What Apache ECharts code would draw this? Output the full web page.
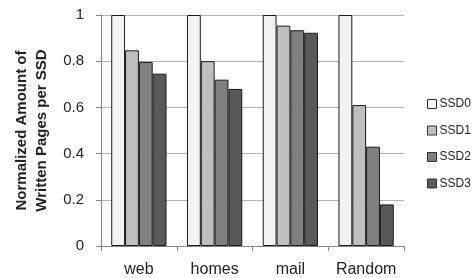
<!DOCTYPE html>
<html>
<head>
<meta charset="utf-8">
<script src="https://cdn.jsdelivr.net/npm/echarts@6/dist/echarts.min.js"></script>
<style>
  html, body { margin: 0; padding: 0; background: #fff; }
  #chart { width: 475px; height: 278px; }
</style>
</head>
<body>
<div id="chart"></div>
<script>
// workloads on the x axis
var categories = ['web', 'homes', 'mail', 'Random'];
var ssdNames = ['SSD0', 'SSD1', 'SSD2', 'SSD3'];
// normalized written pages, one array per SSD
var ssd0 = [1, 1, 1, 1];
var ssd1 = [0.847, 0.80, 0.954, 0.61];
var ssd2 = [0.797, 0.72, 0.934, 0.43];
var ssd3 = [0.746, 0.68, 0.923, 0.18];
var yTicks = [0, 0.2, 0.4, 0.6, 0.8, 1];

var colors = ['#f2f2f2', '#bfbfbf', '#808080', '#595959'];
var font = 'Liberation Sans';

var chart = echarts.init(document.getElementById('chart'), null, { renderer: 'canvas' });

var seriesData = [ssd0, ssd1, ssd2, ssd3];
var series = seriesData.map(function (vals, i) {
  return {
    name: ssdNames[i],
    type: 'bar',
    data: vals,
    barGap: '0%',
    barCategoryGap: '27%',
    itemStyle: { color: colors[i], borderColor: '#1a1a1a', borderWidth: 1 }
  };
});

chart.setOption({
  backgroundColor: '#ffffff',
  animation: false,
  textStyle: { fontFamily: font },
  grid: { left: 101, right: 71, top: 15, bottom: 32, containLabel: false },
  legend: {
    orient: 'vertical',
    left: 427,
    top: 98,
    padding: 0,
    itemWidth: 9,
    itemHeight: 9,
    itemGap: 14.5,
    icon: 'rect',
    data: ssdNames,
    itemStyle: { borderColor: '#333', borderWidth: 1 },
    textStyle: { fontFamily: font, fontSize: 12, color: '#222', padding: [0, 0, 0, -2] }
  },
  xAxis: {
    type: 'category',
    data: categories,
    axisLine: { lineStyle: { color: '#868686', width: 1 } },
    axisTick: { show: true, length: 5, lineStyle: { color: '#868686' } },
    axisLabel: { fontFamily: font, fontSize: 16, color: '#222', margin: 16, interval: 0 }
  },
  yAxis: {
    type: 'value',
    min: 0,
    max: 1,
    interval: 0.2,
    name: 'Normalized Amount of\nWritten Pages per SSD',
    nameLocation: 'middle',
    nameGap: 47,
    nameTextStyle: { fontFamily: font, fontSize: 15, fontWeight: 'bold', color: '#222', lineHeight: 20 },
    axisLine: { show: true, lineStyle: { color: '#868686', width: 1 } },
    axisTick: { show: true, length: 5, lineStyle: { color: '#868686' } },
    splitLine: { show: true, lineStyle: { color: '#b3b3b3', width: 1 } },
    axisLabel: {
      fontFamily: font, fontSize: 15, color: '#222', margin: 17,
      formatter: function (v) {
        var t = yTicks.filter(function (x) { return Math.abs(x - v) < 1e-9; });
        return t.length ? String(t[0]) : '';
      }
    }
  },
  series: series
});
</script>
</body>
</html>
